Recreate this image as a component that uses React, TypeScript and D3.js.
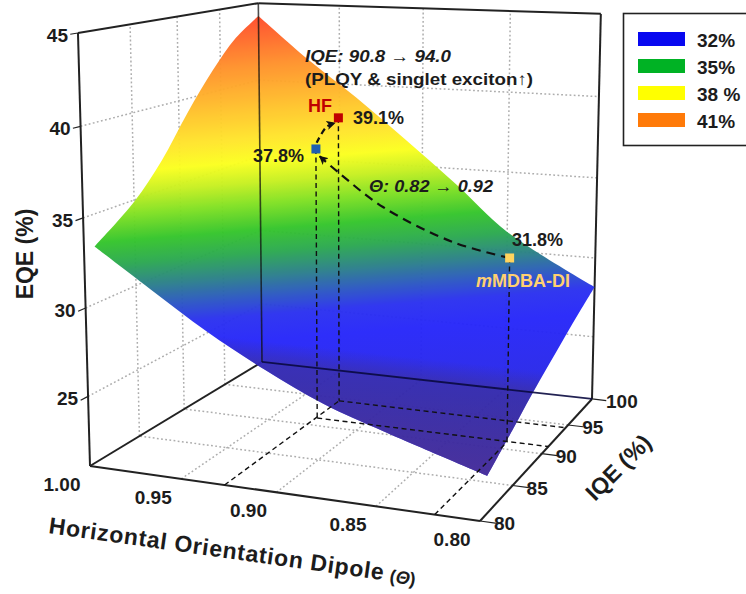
// App.tsx
import React from "react";
import * as d3 from "d3";

const thetaTicks = [1.0, 0.95, 0.9, 0.85, 0.8];
const iqeTicks = [80, 85, 90, 95, 100];
const eqeTicks = [45, 40, 35, 30, 25];

// surface edges
const edgeThetas = [1.0, 0.97, 0.94, 0.91, 0.88, 0.85, 0.8];
const edgeIqes = [81, 85, 88, 91, 94, 97, 100];
const eqeAtIqe81 = [33.2, 31.1, 29.05, 27.3, 25.8, 24.7, 23.03];
const eqeAtIqe100 = [44.17, 41.55, 39.2, 36.65, 34.0, 31.2, 28.17];
const eqeAtTheta100 = [33.2, 34.9, 36.75, 39.15, 41.3, 43.05, 44.17];
const eqeAtTheta080 = [23.03, 24.2, 25.1, 25.9, 26.7, 27.45, 28.17];

// devices: blue, HF, mMDBA-DI
const deviceTheta = [0.927, 0.928, 0.8215];
const deviceIqe = [91.2, 94.5, 91.1];
const deviceEqe = [37.4, 38.75, 31.87];
const deviceColors = ["#1f5fb0", "#c00000", "#ffd45e"];

// dashed arrows between the devices
const thetaArrow = [
  [0.8215, 91.1, 31.87],
  [0.8514, 91.1, 32.52],
  [0.8894, 91.1, 34.26],
  [0.9137, 91.1, 36.09],
  [0.9245, 91.1, 37.0],
];
const iqeArrow = [
  [0.927, 91.3, 37.75],
  [0.927, 92.6, 38.48],
  [0.928, 94.0, 38.51],
];

const legendLabels = ["32%", "35%", "38 %", "41%"];
const legendColors = ["#0808f0", "#00b224", "#ffff00", "#ff7a08"];

const rampY = [16, 60, 100, 135, 157, 178, 200, 225, 248, 270, 290, 310, 335, 478];
const rampColors = [
  "#ff4f2a", "#ff8f2a", "#ffbe2a", "#ffe62a", "#fbff1e", "#c6f020", "#7ee022",
  "#34c52a", "#2aa850", "#2a8088", "#2a58c0", "#2a30f0", "#2626fa", "#2a28d0",
];

const FONT = "'Liberation Sans', Arial, sans-serif";
const INK = "#1c1c1c";

const u = d3.scaleLinear().domain([1.0, 0.8]).range([0, 1]);
const v = d3.scaleLinear().domain([80, 100]).range([0, 1]);
const w = d3.scaleLinear().domain([21, 45]).range([0, 1]);

// perspective camera fitted to the box corners
function project(theta: number, iqe: number, eqe: number): [number, number] {
  const a = u(theta);
  const b = v(iqe);
  const c = w(eqe);
  const d = -0.0838 * a + 0.2103 * b + 1 - 0.042 * c;
  return [
    (349.8 * a + 227.1 * b + 90 - 15.3 * c) / d,
    (11.34 * a - 27.9 * b + 466 - 434.4 * c) / d,
  ];
}

const straight = d3.line();
const smooth = d3.line().curve(d3.curveCatmullRom);

const seg = (p: [number, number, number], q: [number, number, number]) =>
  straight([project(p[0], p[1], p[2]), project(q[0], q[1], q[2])]) as string;

function surfacePath() {
  const e1 = edgeIqes.map((q, i) => project(1.0, q, eqeAtTheta100[i]));
  const e2 = edgeThetas.map((t, i) => project(t, 100, eqeAtIqe100[i]));
  const e3 = edgeIqes.map((q, i) => project(0.8, q, eqeAtTheta080[i])).reverse();
  const e4 = edgeThetas.map((t, i) => project(t, 81, eqeAtIqe81[i])).reverse();
  const parts = [e1, e2, e3, e4].map((e) => smooth(e) as string);
  return parts[0] + parts.slice(1).map((p) => "L" + p.slice(1)).join("") + "Z";
}

const zBottom = w.domain()[0];
const zTop = w.domain()[1];

export default function App() {
  const surface = surfacePath();
  const offset = d3.scaleLinear().domain([16, 478]).range([0, 1]);
  const gridStyle = { stroke: "#adadad", strokeWidth: 1.5, strokeDasharray: "1.8 2.4", fill: "none" };
  const axisStyle = { stroke: "#222", strokeWidth: 2, fill: "none" };
  const guideStyle = { stroke: "#111", strokeWidth: 1.4, strokeDasharray: "5 3.5", fill: "none" };

  const grid: string[] = [];
  thetaTicks.slice(1, 4).forEach((t) => {
    grid.push(seg([t, 80, zBottom], [t, 100, zBottom]));
    grid.push(seg([t, 100, zBottom], [t, 100, zTop]));
  });
  iqeTicks.slice(1, 4).forEach((q) => {
    grid.push(seg([0.8, q, zBottom], [1.0, q, zBottom]));
    grid.push(seg([1.0, q, zBottom], [1.0, q, zTop]));
  });
  eqeTicks.slice(1).forEach((z) => {
    grid.push(seg([1.0, 80, z], [1.0, 100, z]));
    grid.push(seg([1.0, 100, z], [0.8, 100, z]));
  });

  const [blue, red, yellow] = deviceTheta.map((t, i) => [t, deviceIqe[i], deviceEqe[i]] as [number, number, number]);

  return (
    <svg
      width={746}
      height={594}
      style={{ position: "absolute", left: 0, top: 0, background: "#fff" }}
      fontFamily={FONT}
      fontWeight="bold"
      fill={INK}
    >
      <defs>
        <linearGradient id="ramp" gradientUnits="userSpaceOnUse" x1={300} y1={16} x2={337} y2={478}>
          {rampY.map((y, i) => (
            <stop key={y} offset={offset(y)} stopColor={rampColors[i]} />
          ))}
        </linearGradient>
        <linearGradient id="shade" gradientUnits="userSpaceOnUse" x1={300} y1={345} x2={287} y2={465}>
          <stop offset={0} stopColor="#3a2a80" stopOpacity={0} />
          <stop offset={0.2} stopColor="#3a2a80" stopOpacity={0.55} />
          <stop offset={1} stopColor="#4a2a90" stopOpacity={0.85} />
        </linearGradient>
        <marker id="head" viewBox="0 0 10 10" refX={9} refY={5} markerWidth={9} markerHeight={9} markerUnits="userSpaceOnUse" orient="auto">
          <path d="M0,0L10,5L0,10L2.5,5Z" fill="#111" />
        </marker>
      </defs>

      {/* dotted grid on the walls and the floor */}
      {grid.map((d, i) => (
        <path key={i} d={d} {...gridStyle} />
      ))}

      {/* box */}
      <path d={seg([1.0, 80, zBottom], [0.8, 80, zBottom])} {...axisStyle} />
      <path d={seg([0.8, 80, zBottom], [0.8, 100, zBottom])} {...axisStyle} />
      <path d={seg([1.0, 80, zBottom], [1.0, 100, zBottom])} {...axisStyle} />
      <path d={seg([1.0, 80, zBottom], [1.0, 80, zTop])} {...axisStyle} />
      <path d={seg([1.0, 80, zTop], [1.0, 100, zTop])} {...axisStyle} />
      <path d={seg([1.0, 100, zTop], [0.8, 100, zTop])} {...axisStyle} />
      <path d={seg([0.8, 100, zTop], [0.8, 100, zBottom])} {...axisStyle} />

      {/* tick marks */}
      {eqeTicks.map((z) => (
        <path key={z} d={seg([1.0, 80, z], [1.0, 79.3, z])} {...axisStyle} strokeWidth={1.2} />
      ))}
      {iqeTicks.map((q) => (
        <path key={q} d={seg([0.8, q, zBottom], [0.792, q, zBottom])} {...axisStyle} strokeWidth={1.2} />
      ))}

      {/* surface */}
      <g opacity={0.96}>
        <path d={surface} fill="url(#ramp)" />
        <path d={surface} fill="url(#shade)" />
      </g>

      {/* box lines seen through the surface */}
      <path d={seg([1.0, 100, zBottom], [1.0, 100, zTop])} stroke="#111" strokeOpacity={0.75} strokeWidth={1.6} fill="none" />
      <path d={seg([1.0, 100, zBottom], [0.8, 100, zBottom])} stroke="#0a0a40" strokeOpacity={0.9} strokeWidth={1.8} fill="none" />

      {/* guides from the devices */}
      <path d={seg(blue, [blue[0], blue[1], zBottom])} {...guideStyle} />
      <path d={seg(red, [red[0], red[1], zBottom])} {...guideStyle} />
      <path d={seg(yellow, [yellow[0], yellow[1], zBottom])} {...guideStyle} />
      <path d={seg([blue[0], 80, zBottom], [red[0], red[1], zBottom])} {...guideStyle} />
      <path d={seg([yellow[0], 80, zBottom], [yellow[0], yellow[1], zBottom])} {...guideStyle} />
      <path d={seg([blue[0], blue[1], zBottom], [0.8, blue[1], zBottom])} {...guideStyle} />
      <path d={seg([red[0], red[1], zBottom], [0.8, red[1], zBottom])} {...guideStyle} />

      {/* arrows */}
      <path
        d={smooth(thetaArrow.map((p) => project(p[0], p[1], p[2]))) as string}
        fill="none"
        stroke="#111"
        strokeWidth={2.2}
        strokeDasharray="9 6"
        markerEnd="url(#head)"
      />
      <path
        d={smooth(iqeArrow.map((p) => project(p[0], p[1], p[2]))) as string}
        fill="none"
        stroke="#111"
        strokeWidth={2.2}
        strokeDasharray="6 4"
        markerEnd="url(#head)"
      />

      {/* devices */}
      {deviceTheta.map((t, i) => {
        const [x, y] = project(t, deviceIqe[i], deviceEqe[i]);
        return <rect key={i} x={x - 4.5} y={y - 4.5} width={9} height={9} fill={deviceColors[i]} />;
      })}

      {/* tick labels */}
      <g fontSize={19}>
        {eqeTicks.map((z) => {
          const [x, y] = project(1.0, 80, z);
          return (
            <text key={z} x={x - 10} y={y + 9} textAnchor="end">
              {z}
            </text>
          );
        })}
        {thetaTicks.map((t) => {
          const [x, y] = project(t, 80, zBottom);
          return (
            <text key={t} x={x - 28} y={y + 25} textAnchor="middle">
              {t.toFixed(2)}
            </text>
          );
        })}
        {iqeTicks.map((q) => {
          const [x, y] = project(0.8, q, zBottom);
          return (
            <text key={q} x={x + 14} y={y + 9.5}>
              {q}
            </text>
          );
        })}
      </g>

      {/* axis titles */}
      <text transform="translate(33,254) rotate(-90)" textAnchor="middle" fontSize={23}>
        EQE (%)
      </text>
      <text transform="translate(624,473) rotate(-45)" textAnchor="middle" fontSize={23}>
        IQE (%)
      </text>
      <text transform="translate(48,533) rotate(8)" fontSize={23} textLength={338} lengthAdjust="spacing">
        Horizontal Orientation Dipole
      </text>
      <text transform="translate(389,582) rotate(8)" fontSize={18}>
        (<tspan fontStyle="italic">Θ</tspan>)
      </text>

      {/* annotations */}
      <g fontSize={17}>
        <text x={305} y={62} fontStyle="italic" textLength={146} lengthAdjust="spacingAndGlyphs">
          IQE: 90.8 → 94.0
        </text>
        <text x={305} y={85} textLength={228} lengthAdjust="spacingAndGlyphs">
          (PLQY &amp; singlet exciton↑)
        </text>
        <text x={369} y={192} fontStyle="italic" textLength={124} lengthAdjust="spacingAndGlyphs">
          Θ: 0.82 → 0.92
        </text>
      </g>
      <g fontSize={18}>
        <text x={308} y={112} fill="#c00000">
          HF
        </text>
        <text x={353} y={124}>
          39.1%
        </text>
        <text x={253} y={162}>
          37.8%
        </text>
        <text x={512} y={246}>
          31.8%
        </text>
        <text x={476} y={287} fill="#ffd070">
          <tspan fontStyle="italic">m</tspan>MDBA-DI
        </text>
      </g>

      {/* legend */}
      <rect x={623.5} y={13.5} width={124} height={132} fill="#fff" stroke="#222" strokeWidth={1.6} />
      {legendLabels.map((label, i) => {
        const row = d3.scaleLinear().domain([0, 3]).range([32, 113]);
        return (
          <g key={label}>
            <rect x={638} y={row(i)} width={47} height={14} fill={legendColors[i]} />
            <text x={697} y={row(i) + 15} fontSize={19} fontWeight="bold">
              {label}
            </text>
          </g>
        );
      })}
    </svg>
  );
}
